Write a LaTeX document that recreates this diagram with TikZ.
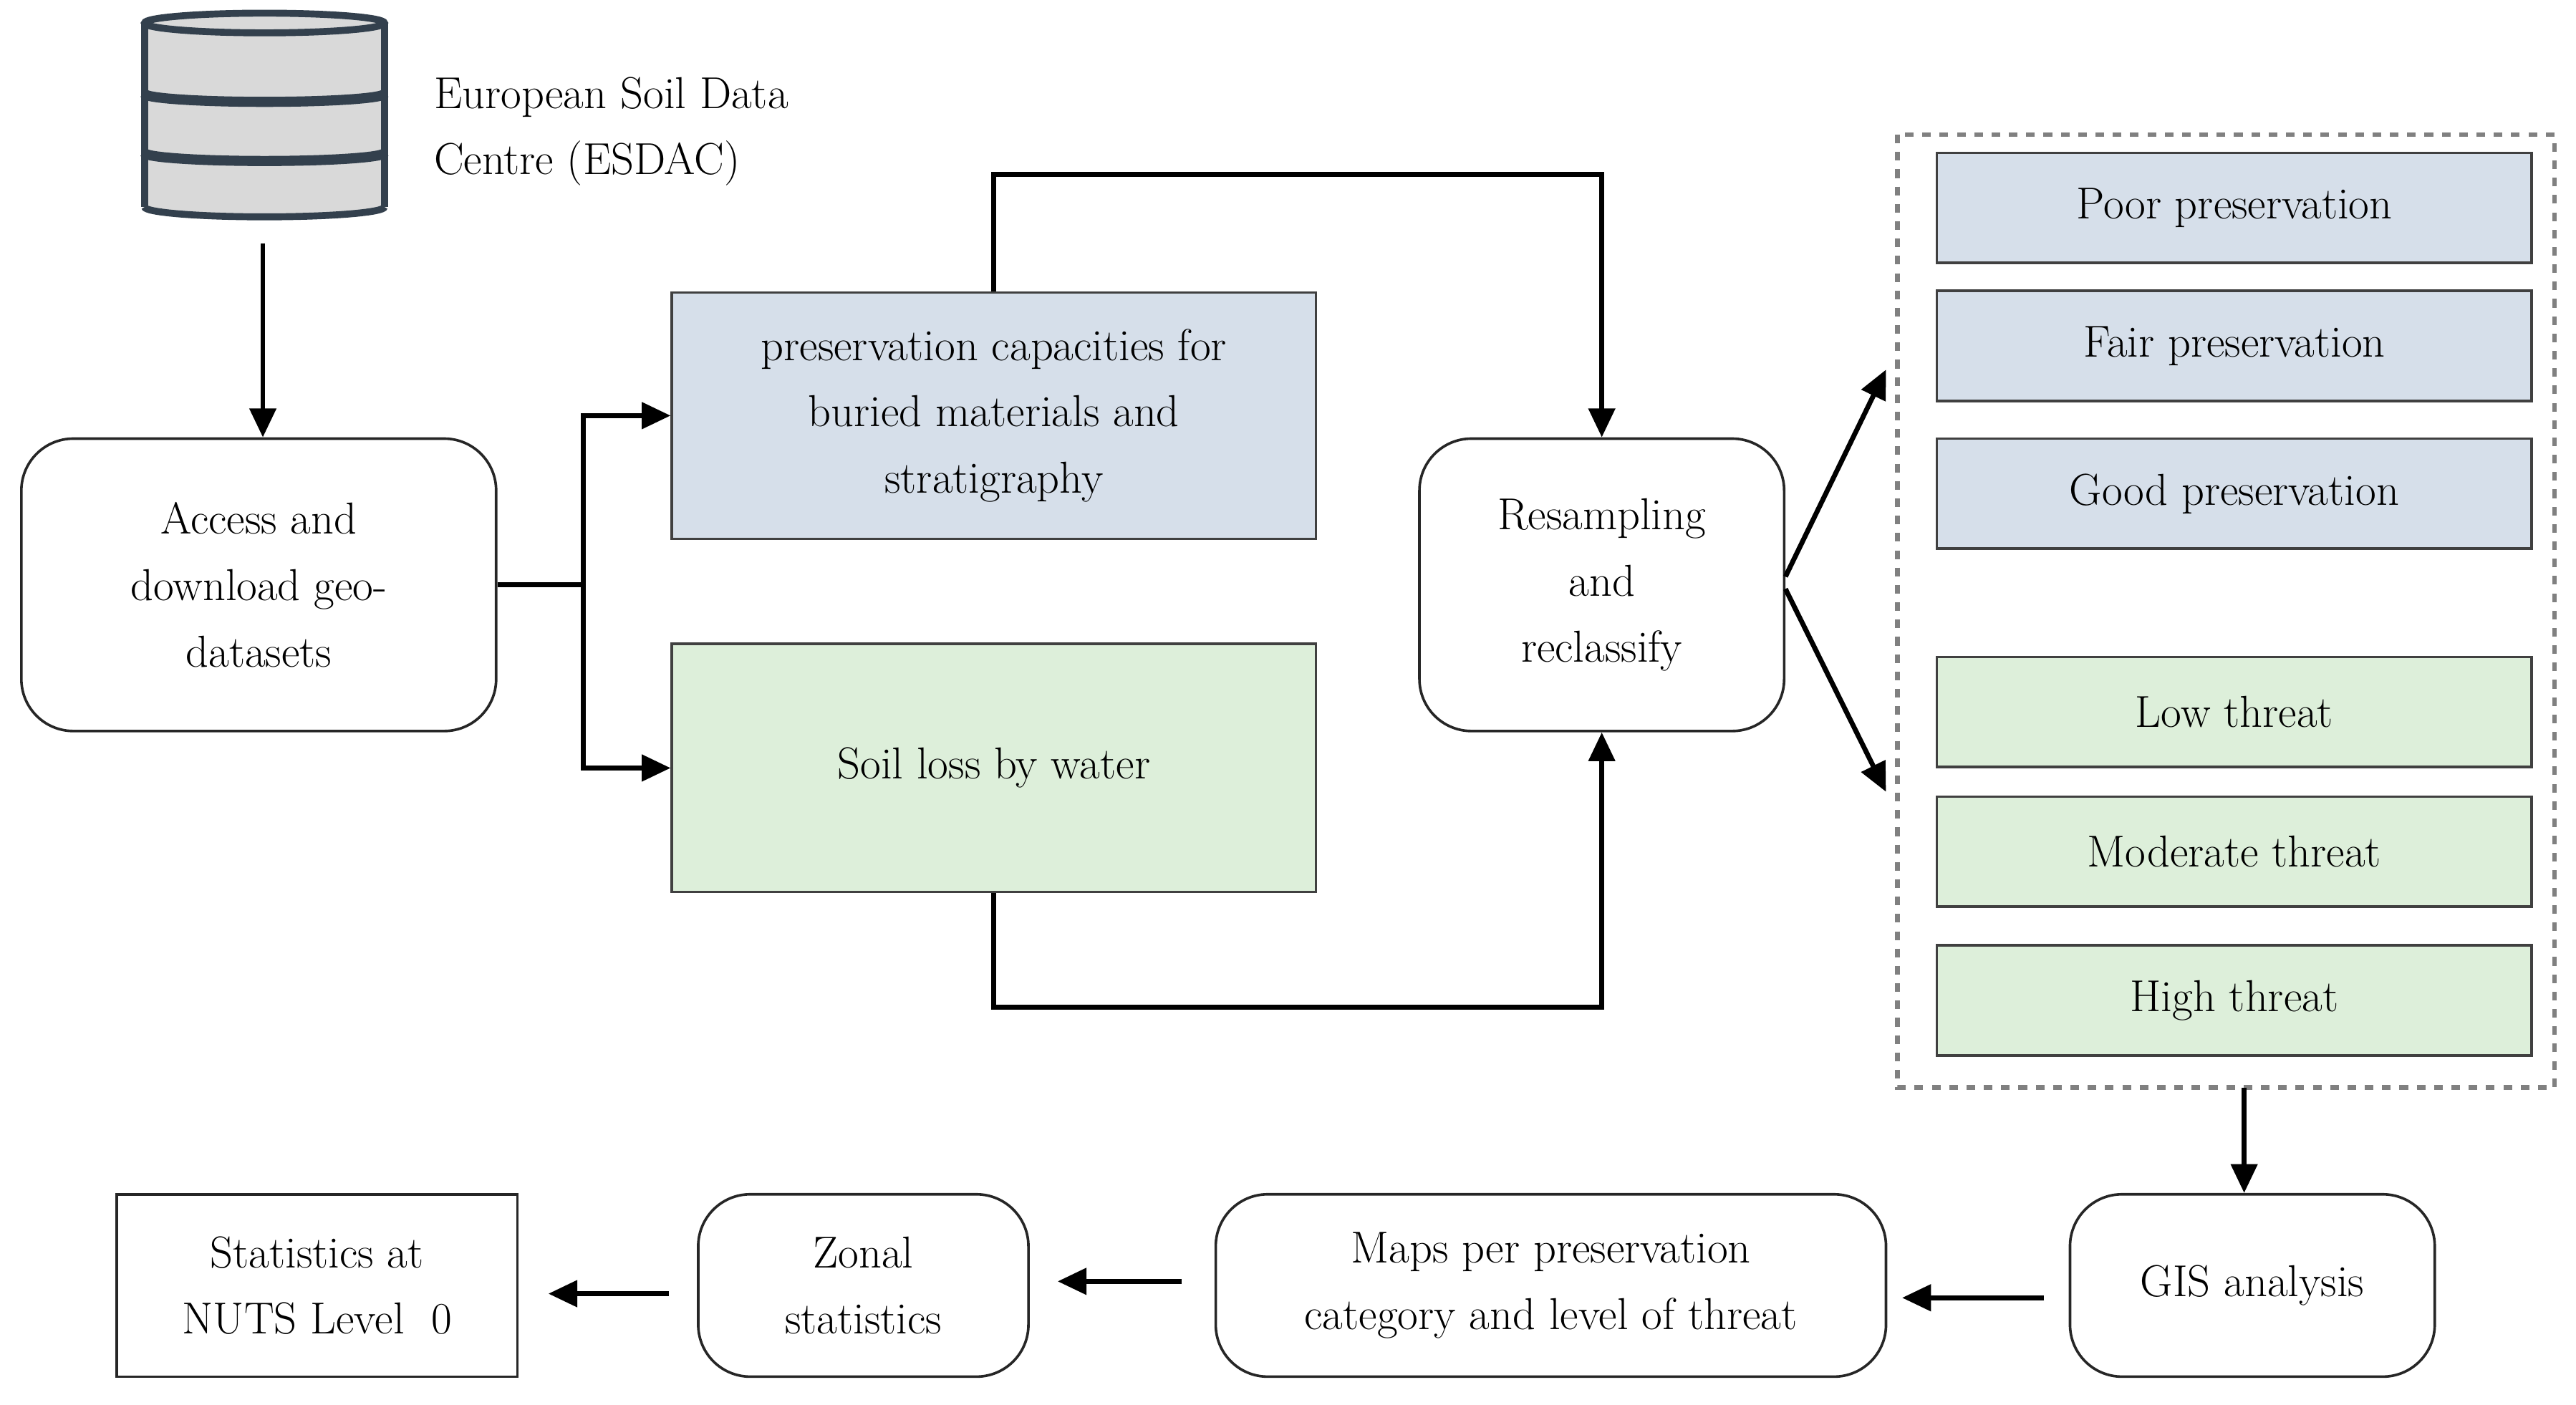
\documentclass[tikz,border=0pt]{standalone}
\usetikzlibrary{arrows.meta,shapes.geometric}
\definecolor{bl}{HTML}{D6DFEA}
\definecolor{gr}{HTML}{DDEFDA}
\definecolor{dbl}{HTML}{33404D}
\begin{document}
\begin{tikzpicture}[x=0.02cm,y=-0.02cm,
 box/.style={draw=black!85,line width=0.9pt,align=center,font=\fontsize{15.5}{23}\selectfont,inner sep=0pt},
 rbox/.style={box,rounded corners=18pt},
 blu/.style={box,fill=bl,draw=black!75},
 grn/.style={box,fill=gr,draw=black!75},
 con/.style={line width=1.7pt},
 arr/.style={con,-{Triangle[length=10pt,width=9pt]}}]
\useasboundingbox (0,0) rectangle (1568,855);
% database
\begin{scope}[line width=2.4pt,draw=dbl]
\fill[gray!30] (88,14) rectangle (234,126);
\fill[gray!30] (161,126) ellipse (73 and 6);
\draw (88,14) -- (88,126) (234,14) -- (234,126);
\draw (88,126) arc[start angle=180,end angle=360,x radius=73,y radius=-6];
\draw[fill=gray!30] (161,14) ellipse[x radius=73,y radius=6];
\draw[line width=3.5pt] (88,57) arc[start angle=180,end angle=360,x radius=73,y radius=-5];
\draw[line width=3.5pt] (88,93) arc[start angle=180,end angle=360,x radius=73,y radius=-5];
\end{scope}
\node[anchor=west,align=left,font=\fontsize{15.5}{23}\selectfont] (esdac) at (258,80) {European Soil Data\\Centre (ESDAC)};
\coordinate (db) at (160,148);
\node[rbox,minimum width=289*0.02cm,minimum height=178*0.02cm] (acc) at (157.5,356) {Access and\\download geo-\\datasets};
\node[blu,minimum width=392*0.02cm,minimum height=150*0.02cm] (pres) at (605,253) {preservation capacities for\\buried materials and\\stratigraphy};
\node[grn,minimum width=392*0.02cm,minimum height=151*0.02cm] (soil) at (605,467.5) {Soil loss by water};
\node[rbox,minimum width=222*0.02cm,minimum height=178*0.02cm] (res) at (975,356) {Resampling\\and\\reclassify};
\draw[dashed,line width=1.6pt,draw=gray] (1155,82) rectangle (1555,662);
\coordinate (dt) at (1366,662);
\foreach \n/\t/\y/\s in {poor/Poor preservation/126.5/blu,fair/Fair preservation/210.5/blu,good/Good preservation/300.5/blu,low/Low threat/433.5/grn,mod/Moderate threat/518.5/grn,high/High threat/609/grn}
 \node[\s,minimum width=362*0.02cm,minimum height=67*0.02cm] (\n) at (1360,\y) {\t};
\node[rbox,minimum width=222*0.02cm,minimum height=111*0.02cm] (gis) at (1371,782.5) {GIS analysis};
\node[rbox,minimum width=408*0.02cm,minimum height=111*0.02cm] (maps) at (944,782.5) {Maps per preservation\\category and level of threat};
\node[rbox,minimum width=201*0.02cm,minimum height=111*0.02cm] (zon) at (525.5,782.5) {Zonal\\statistics};
\node[box,minimum width=244*0.02cm,minimum height=111*0.02cm] (stat) at (193,782.5) {Statistics at\\NUTS Level\ \ 0};
\coordinate (sp) at (355,356);
\draw[arr] (db) -- (acc.north -| db);
\draw[con] (acc.east) -- (sp);
\draw[arr] (sp) |- (pres.west);
\draw[arr] (sp) |- (soil.west);
\draw[arr] (pres.north) -- (605,106) -| (res.north);
\draw[arr] (soil.south) -- (605,613) -| (res.south);
\draw[arr] ([yshift=0.1cm]res.east) -- (1148,225);
\draw[arr] ([yshift=-0.05cm]res.east) -- (1148,482);
\draw[arr] (dt) -- (dt |- gis.north);
\draw[arr] ([xshift=-0.3cm,yshift=-0.15cm]gis.west) -- ([xshift=0.18cm,yshift=-0.15cm]maps.east);
\draw[arr] ([xshift=-0.4cm,yshift=0.05cm]maps.west) -- ([xshift=0.34cm,yshift=0.05cm]zon.east);
\draw[arr] ([xshift=-0.34cm,yshift=-0.1cm]zon.west) -- ([xshift=0.36cm,yshift=-0.1cm]stat.east);
\end{tikzpicture}
\end{document}
